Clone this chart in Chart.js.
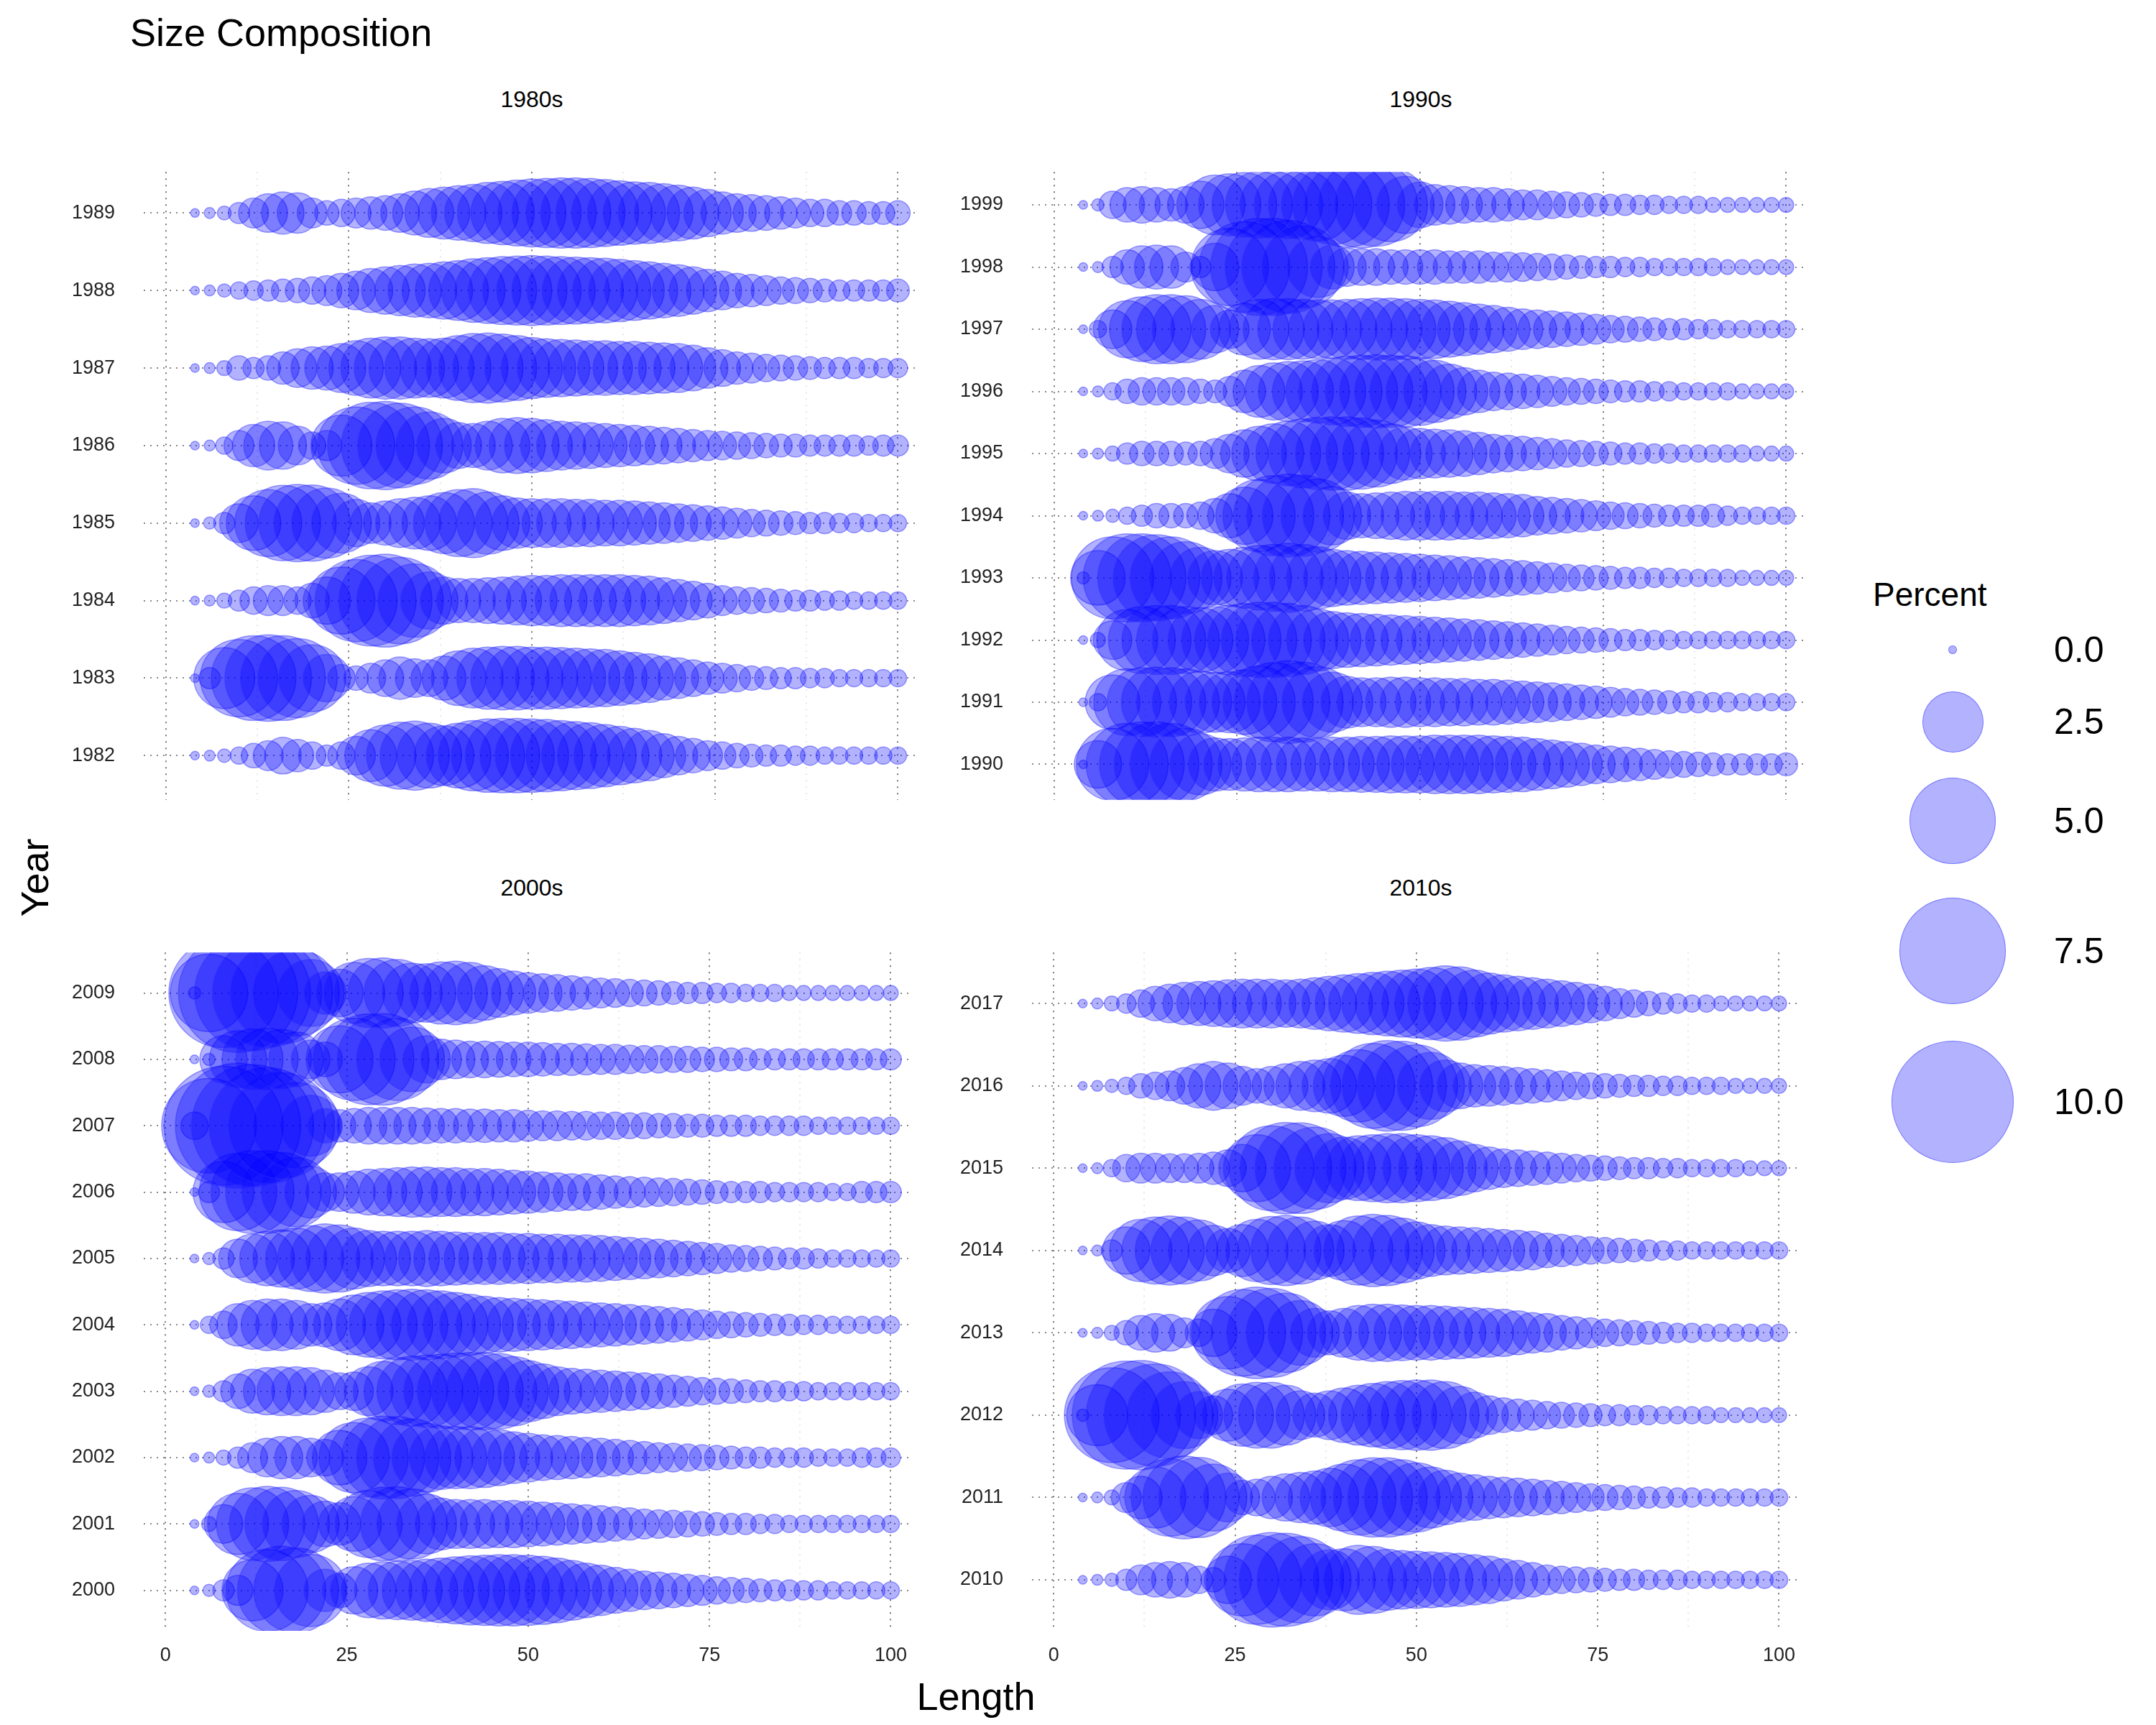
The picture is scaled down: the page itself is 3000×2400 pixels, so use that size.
<!DOCTYPE html>
<html><head><meta charset="utf-8">
<script src="https://cdn.jsdelivr.net/npm/chart.js@4.4.1/dist/chart.umd.min.js"></script>
<style>
body{margin:0;width:3000px;height:2400px;background:#fff;position:relative;font-family:Arial,"Liberation Sans",sans-serif;overflow:hidden}
canvas{position:absolute}
.t{position:absolute;white-space:nowrap;color:#000}
</style></head><body>
<div class="t" style="left:181px;top:14px;font-size:54px">Size Composition</div>
<div class="t" style="left:740px;top:138px;font-size:32px;transform:translate(-50%,-50%)">1980s</div>
<div class="t" style="left:1977px;top:138px;font-size:32px;transform:translate(-50%,-50%)">1990s</div>
<div class="t" style="left:740px;top:1235px;font-size:32px;transform:translate(-50%,-50%)">2000s</div>
<div class="t" style="left:1977px;top:1235px;font-size:32px;transform:translate(-50%,-50%)">2010s</div>
<div class="t" style="left:1358px;top:2360px;font-size:54px;transform:translate(-50%,-50%)">Length</div>
<div class="t" style="left:48px;top:1221px;font-size:54px;transform:translate(-50%,-50%) rotate(-90deg)">Year</div>
<div class="t" style="left:2606px;top:800px;font-size:46px">Percent</div>
<div id="legend"></div>
<canvas id="c0"></canvas><canvas id="c1"></canvas><canvas id="c2"></canvas><canvas id="c3"></canvas>
<script>
const lengths=[4,6,8,10,12,14,16,18,20,22,24,26,28,30,32,34,36,38,40,42,44,46,48,50,52,54,56,58,60,62,64,66,68,70,72,74,76,78,80,82,84,86,88,90,92,94,96,98,100];
const xTicks=[0,12.5,25,37.5,50,62.5,75,87.5,100];
const legendValues=[0,2.5,5,7.5,10];

const years1980s=[1982,1983,1984,1985,1986,1987,1988,1989];
const pct1980s=[
[.05,.08,.12,.2,.4,.6,.9,.7,.5,.3,.5,1.0,1.8,2.5,3.0,3.2,2.8,2.4,2.8,3.3,3.6,3.7,3.7,3.6,3.5,3.3,3.1,2.9,2.6,2.3,2.0,1.7,1.3,1.0,.8,.6,.5,.4,.35,.3,.3,.25,.25,.2,.2,.2,.2,.2,.2],
[.05,.3,2.5,4.0,4.8,5.0,4.8,4.2,3.0,1.5,.5,.4,.6,.9,1.2,1.0,.9,1.3,2.0,2.4,2.6,2.7,2.7,2.6,2.6,2.5,2.4,2.3,2.2,2.0,1.8,1.6,1.3,1.1,.9,.7,.6,.5,.4,.35,.3,.3,.25,.25,.2,.2,.2,.2,.2],
[.05,.08,.15,.3,.5,.6,.6,.5,.8,1.5,3.0,4.5,5.5,5.8,5.0,3.6,2.2,1.5,1.3,1.3,1.4,1.5,1.6,1.7,1.7,1.8,1.8,1.8,1.8,1.8,1.7,1.6,1.4,1.2,1.0,.8,.6,.5,.45,.4,.35,.3,.3,.25,.25,.2,.2,.2,.2],
[.05,.1,.3,1.0,2.0,3.0,3.8,4.0,3.9,3.3,2.4,1.5,1.1,1.3,1.6,1.8,2.0,2.5,3.0,3.2,2.6,2.0,1.7,1.6,1.6,1.6,1.5,1.5,1.4,1.4,1.3,1.2,1.1,1.0,.9,.8,.7,.6,.5,.45,.4,.35,.3,.3,.25,.25,.2,.2,.2],
[.05,.08,.2,.6,1.2,1.6,1.5,1.0,.5,.6,2.5,4.0,5.0,5.2,4.8,4.0,3.0,2.0,1.4,1.3,1.6,2.0,2.1,2.0,1.8,1.6,1.5,1.4,1.3,1.2,1.1,1.0,.9,.8,.7,.6,.55,.5,.45,.4,.35,.35,.3,.3,.3,.3,.25,.3,.3],
[.05,.08,.15,.4,.3,.4,.7,1.0,1.2,1.3,1.6,2.0,2.4,2.6,2.6,2.4,2.3,2.4,2.8,3.2,3.3,3.1,2.8,2.5,2.3,2.2,2.1,2.0,2.0,1.9,1.9,1.8,1.7,1.6,1.4,1.1,.9,.7,.6,.5,.45,.4,.35,.3,.3,.3,.25,.25,.25],
[.05,.08,.12,.2,.25,.3,.35,.4,.5,.6,.8,1.0,1.3,1.5,1.7,1.9,2.0,2.2,2.4,2.7,2.9,3.1,3.2,3.3,3.2,3.1,3.0,2.9,2.8,2.6,2.4,2.2,2.0,1.8,1.5,1.2,1.0,.8,.7,.6,.5,.45,.4,.35,.3,.3,.3,.3,.35],
[.05,.08,.13,.3,.6,1.0,1.2,1.1,.6,.4,.5,.6,.7,.8,1.0,1.3,1.6,1.8,2.0,2.2,2.5,2.7,2.9,3.1,3.2,3.3,3.3,3.2,3.0,2.8,2.6,2.5,2.3,2.1,1.8,1.5,1.2,1.0,.9,.8,.7,.6,.5,.5,.4,.4,.35,.35,.4]];

const years1990s=[1990,1991,1992,1993,1994,1995,1996,1997,1998,1999];
const pct1990s=[
[.05,1.5,3.5,4.5,4.8,4.8,4.5,3.5,2.5,1.9,1.8,1.9,2.0,2.0,2.0,1.9,1.9,2.0,2.0,2.1,2.1,2.2,2.2,2.2,2.3,2.3,2.3,2.3,2.2,2.1,2.0,1.8,1.6,1.4,1.2,1.0,.9,.8,.7,.6,.5,.45,.4,.35,.3,.3,.3,.3,.35],
[.05,.2,2.0,3.0,3.2,3.3,3.2,3.0,2.6,2.4,2.5,2.8,3.5,4.2,4.6,4.3,3.4,2.4,1.8,1.6,1.6,1.7,1.7,1.6,1.6,1.5,1.5,1.4,1.4,1.3,1.2,1.1,1.0,.9,.8,.7,.6,.5,.45,.4,.35,.3,.3,.25,.25,.2,.2,.2,.2],
[.05,.15,1.0,2.5,3.0,3.2,3.2,3.0,2.8,3.0,3.3,3.6,3.8,3.8,3.6,3.2,2.6,2.2,2.0,1.9,1.8,1.7,1.6,1.5,1.4,1.3,1.2,1.1,1.0,.9,.8,.7,.6,.5,.45,.4,.35,.3,.3,.25,.25,.2,.2,.2,.2,.2,.2,.2,.2],
[.1,2.0,4.5,5.2,5.2,5.0,4.5,3.5,2.5,2.0,2.2,2.5,2.8,3.0,3.2,3.0,2.6,2.2,2.0,1.9,1.8,1.7,1.6,1.5,1.4,1.3,1.2,1.1,1.0,.9,.8,.7,.6,.5,.45,.4,.35,.3,.3,.25,.25,.2,.2,.2,.2,.15,.15,.15,.15],
[.05,.08,.12,.2,.3,.4,.4,.4,.5,.8,1.3,2.2,3.5,4.3,4.6,4.4,3.6,2.3,1.5,1.3,1.4,1.5,1.6,1.6,1.6,1.6,1.5,1.5,1.4,1.3,1.2,1.0,.9,.8,.7,.6,.5,.45,.4,.35,.3,.3,.3,.35,.25,.2,.2,.2,.2],
[.05,.08,.15,.3,.4,.4,.4,.35,.4,.6,1.0,1.5,2.0,2.4,2.8,3.2,3.5,3.6,3.6,3.4,3.0,2.4,1.9,1.7,1.6,1.5,1.4,1.2,1.0,.9,.8,.7,.6,.5,.45,.4,.35,.3,.3,.25,.25,.2,.2,.2,.2,.2,.15,.15,.15],
[.05,.08,.2,.4,.5,.5,.5,.5,.4,.35,.6,1.2,1.8,2.2,2.4,2.5,2.7,3.0,3.3,3.5,3.6,3.5,3.4,3.1,2.6,2.0,1.5,1.2,1.0,.9,.8,.7,.6,.5,.45,.4,.35,.3,.3,.25,.25,.2,.2,.2,.2,.15,.15,.15,.15],
[.05,.2,1.0,2.2,2.8,3.2,3.2,3.0,2.4,1.5,1.0,1.8,2.4,2.5,2.5,2.4,2.3,2.3,2.4,2.5,2.6,2.6,2.5,2.4,2.3,2.1,1.9,1.7,1.5,1.3,1.1,1.0,.9,.8,.7,.6,.5,.45,.4,.35,.3,.3,.25,.25,.2,.2,.2,.2,.2],
[.05,.08,.3,.8,1.2,1.3,1.2,.6,.3,1.5,4.0,5.5,6.3,6.3,5.8,4.5,2.5,1.3,1.0,.9,.9,.8,.8,.8,.8,.7,.7,.7,.6,.6,.55,.5,.45,.4,.35,.3,.3,.25,.25,.2,.2,.2,.2,.2,.15,.15,.15,.15,.15],
[.05,.1,.5,.8,.9,.8,.7,.9,1.5,2.4,2.6,2.8,3.0,3.0,3.1,3.2,3.5,4.2,4.8,5.0,4.6,3.6,2.2,1.4,1.1,1.0,.9,.8,.8,.7,.6,.6,.5,.45,.4,.35,.3,.3,.25,.25,.2,.2,.2,.15,.15,.15,.15,.15,.15]];

const years2000s=[2000,2001,2002,2003,2004,2005,2006,2007,2008,2009];
const pct2000s=[
[.05,.1,.3,.6,2.5,4.5,5.2,4.8,3.5,1.2,.8,1.5,2.0,2.2,2.3,2.4,2.6,2.8,3.0,3.2,3.3,3.4,3.4,3.3,3.1,2.8,2.4,2.0,1.7,1.4,1.2,1.0,.9,.8,.7,.6,.5,.45,.4,.35,.3,.3,.25,.25,.2,.2,.2,.2,.2],
[.05,.15,1.0,2.5,3.5,3.8,3.6,3.0,2.2,1.4,1.2,2.0,3.0,3.6,3.7,3.3,2.4,1.8,1.6,1.6,1.6,1.5,1.5,1.4,1.3,1.2,1.1,1.0,.9,.8,.7,.6,.55,.5,.45,.4,.35,.3,.3,.25,.25,.2,.2,.2,.2,.2,.2,.2,.2],
[.05,.08,.15,.3,.6,1.0,1.2,1.2,1.0,.9,2.0,3.3,4.2,4.6,4.5,4.0,3.2,2.7,2.6,2.6,2.4,2.1,1.8,1.6,1.4,1.3,1.2,1.1,1.0,.9,.8,.7,.6,.55,.5,.45,.4,.35,.3,.3,.25,.25,.25,.2,.2,.2,.25,.25,.25],
[.05,.1,.3,.8,1.3,1.5,1.6,1.6,1.5,1.2,.9,1.0,1.6,2.4,3.0,3.3,3.5,3.7,3.9,4.0,4.0,3.8,3.2,2.5,2.0,1.6,1.4,1.3,1.2,1.1,1.0,.9,.8,.7,.6,.5,.45,.4,.35,.3,.3,.25,.25,.2,.2,.2,.2,.2,.2],
[.05,.2,.5,1.2,1.6,1.8,1.8,1.6,1.2,1.3,1.8,2.4,2.8,3.1,3.3,3.4,3.3,3.1,2.8,2.5,2.2,2.0,1.9,1.8,1.7,1.6,1.5,1.4,1.3,1.2,1.1,1.0,.9,.8,.7,.6,.5,.45,.4,.35,.3,.3,.25,.25,.2,.2,.2,.2,.2],
[.05,.1,.3,1.0,1.6,2.0,2.2,2.5,2.9,3.2,3.0,2.5,2.1,2.0,2.0,2.0,2.1,2.0,1.9,1.8,1.8,1.8,1.7,1.7,1.6,1.6,1.5,1.5,1.4,1.3,1.2,1.1,1.0,.9,.8,.7,.6,.5,.45,.4,.35,.3,.3,.25,.2,.2,.2,.2,.2],
[.05,.3,2.5,4.0,4.6,4.6,4.2,3.2,1.8,1.0,1.0,1.2,1.4,1.5,1.6,1.7,1.7,1.6,1.6,1.5,1.5,1.4,1.3,1.2,1.1,1.0,.9,.9,.8,.7,.65,.6,.55,.5,.45,.4,.35,.3,.3,.3,.25,.25,.25,.25,.2,.2,.3,.3,.3],
[.5,6.0,9.5,10.5,10.0,9.0,7.5,5.0,2.5,.8,.7,.8,.9,.9,.9,.9,.85,.8,.8,.75,.75,.7,.7,.65,.6,.6,.55,.55,.5,.5,.45,.45,.4,.4,.35,.35,.3,.3,.3,.25,.25,.25,.25,.2,.2,.2,.2,.2,.2],
[.05,.1,1.5,2.2,2.5,2.6,2.4,2.0,1.0,.8,3.0,4.5,5.5,5.6,4.5,2.8,1.5,1.1,1.0,.9,.9,.85,.8,.8,.75,.7,.7,.65,.6,.6,.55,.5,.5,.45,.45,.4,.4,.35,.35,.3,.3,.3,.3,.3,.3,.3,.3,.3,.3],
[.1,4.0,8.0,9.5,9.0,8.0,7.0,5.0,3.0,1.2,1.5,2.5,3.2,3.3,3.0,2.4,2.3,2.6,2.7,2.5,2.0,1.6,1.3,1.1,1.0,.9,.8,.7,.6,.55,.5,.45,.4,.35,.3,.3,.25,.25,.2,.2,.2,.15,.15,.15,.15,.15,.15,.15,.15]];

const years2010s=[2010,2011,2012,2013,2014,2015,2016,2017];
const pct2010s=[
[.05,.08,.12,.3,.6,.8,.9,.8,.5,.4,1.5,3.5,5.3,6.0,5.8,5.0,3.5,2.4,2.6,3.2,3.0,2.5,2.3,2.2,2.1,2.0,1.9,1.7,1.5,1.2,1.0,.8,.6,.5,.45,.4,.35,.3,.3,.25,.25,.25,.2,.2,.2,.2,.2,.2,.2],
[.05,.08,.15,.6,1.2,2.5,4.0,4.6,4.3,3.0,1.6,.8,.9,1.2,1.5,1.7,1.9,2.3,3.0,3.8,4.2,4.2,3.8,3.2,2.5,2.0,1.6,1.4,1.2,1.1,1.0,.9,.8,.7,.6,.5,.45,.4,.35,.3,.3,.25,.25,.2,.2,.2,.2,.2,.2],
[.1,2.5,6.0,7.8,8.0,7.0,5.0,3.0,1.5,1.0,1.8,2.6,2.9,2.9,2.4,1.6,1.3,1.6,2.0,2.4,2.7,3.0,3.2,3.3,3.3,3.0,2.2,1.4,1.0,.8,.7,.6,.5,.45,.4,.35,.3,.3,.25,.25,.2,.2,.2,.2,.15,.15,.15,.15,.15],
[.05,.08,.15,.4,.8,1.0,.9,.6,.5,1.5,3.5,5.0,5.6,5.3,4.2,2.8,1.6,1.3,1.6,2.0,2.2,2.2,2.1,2.0,2.0,1.9,1.8,1.7,1.6,1.5,1.3,1.1,1.0,.8,.7,.6,.5,.45,.4,.35,.3,.25,.25,.2,.2,.2,.2,.2,.2],
[.05,.08,.3,1.5,2.6,3.0,3.2,3.0,2.5,1.7,1.3,1.8,2.6,3.1,3.3,3.0,2.3,1.8,2.4,3.2,3.5,3.3,2.8,2.2,1.8,1.6,1.5,1.4,1.3,1.2,1.1,1.0,.8,.7,.6,.5,.45,.4,.35,.3,.25,.25,.2,.2,.2,.2,.2,.2,.2],
[.05,.08,.2,.5,.6,.6,.55,.55,.6,.7,.9,1.5,3.0,4.8,5.6,5.5,4.5,3.2,2.6,2.8,3.0,3.2,3.2,3.0,2.8,2.5,2.0,1.5,1.2,1.0,.9,.8,.7,.6,.5,.45,.4,.35,.3,.3,.25,.25,.2,.2,.2,.2,.15,.15,.15],
[.05,.08,.12,.2,.4,.5,.6,.9,1.3,1.6,1.4,1.0,.8,1.0,1.3,1.6,1.8,2.0,2.5,3.5,4.8,5.5,5.3,4.5,3.0,1.8,1.4,1.2,1.1,1.0,.9,.8,.7,.6,.5,.45,.4,.35,.3,.3,.25,.25,.2,.2,.2,.15,.15,.15,.15],
[.05,.08,.15,.25,.5,.8,1.0,1.2,1.3,1.4,1.5,1.6,1.6,1.6,1.5,1.6,1.8,2.0,2.2,2.4,2.6,2.8,3.0,3.2,3.5,3.8,3.6,3.0,2.5,2.2,2.0,1.8,1.6,1.4,1.2,1.0,.8,.6,.5,.4,.3,.25,.2,.2,.15,.15,.15,.15,.15]];

const R0=6,RMAX=85,PMAX=10;
function rad(p){return Math.max(R0,RMAX*Math.sqrt(Math.max(p,0)/PMAX));}

const panels=[
 {id:'c0',years:years1980s,pct:pct1980s,left:50,top:183,ax:150,aw:1080,ah:986,lo:0.57,hi:0.53,bottom:false},
 {id:'c1',years:years1990s,pct:pct1990s,left:1290,top:183,ax:146,aw:1080,ah:986,lo:0.57,hi:0.53,bottom:false},
 {id:'c2',years:years2000s,pct:pct2000s,left:50,top:1269,ax:150,aw:1080,ah:1000,lo:0.61,hi:0.61,bottom:true},
 {id:'c3',years:years2010s,pct:pct2010s,left:1290,top:1269,ax:146,aw:1080,ah:1000,lo:0.62,hi:0.62,bottom:true}];

Chart.defaults.font.family='Arial, "Liberation Sans", sans-serif';
panels.forEach(P=>{
 const xh=P.bottom?70:0;
 const cv=document.getElementById(P.id);
 const W=P.ax+P.aw, H=P.ah+xh;
 cv.style.left=P.left+'px';cv.style.top=P.top+'px';
 cv.style.width=W+'px';cv.style.height=H+'px';cv.width=W;cv.height=H;
 const data=[];
 P.years.forEach((y,i)=>{P.pct[i].forEach((p,j)=>{if(lengths[j]!==undefined)data.push({x:lengths[j],y:y,r:rad(p)});});});
 new Chart(cv,{type:'bubble',
  data:{datasets:[{data:data,backgroundColor:'rgba(0,0,255,0.3)',borderColor:'rgba(40,40,255,0.45)',borderWidth:1.5}]},
  options:{responsive:false,animation:false,devicePixelRatio:1,
   layout:{padding:0,autoPadding:false},
   plugins:{legend:{display:false},tooltip:{enabled:false}},
   scales:{
    x:{type:'linear',min:-3,max:103,
     afterBuildTicks:s=>{s.ticks=xTicks.map(v=>({value:v}));},
     afterFit:s=>{s.height=xh;},
     grid:{drawTicks:false,lineWidth:2,color:c=>(c.tick&&c.tick.value%25===0)?'#777':'#e6e6e6'},
     border:{display:false,dash:[2,7]},
     ticks:{display:P.bottom,padding:18,color:'#222',font:{size:27},maxRotation:0,callback:v=>v%25===0?String(v):''}},
    y:{type:'linear',min:P.years[0]-P.lo,max:P.years[P.years.length-1]+P.hi,
     afterBuildTicks:s=>{s.ticks=P.years.map(v=>({value:v}));},
     afterFit:s=>{s.width=P.ax;},
     grid:{drawTicks:false,lineWidth:2,color:'#888'},
     border:{display:false,dash:[2,7]},
     ticks:{padding:40,color:'#222',font:{size:27},callback:v=>String(v)}}}}});
});

const lg=document.getElementById('legend');
const ly=[904,1004,1142,1323,1533];
legendValues.forEach((v,i)=>{
 const r=rad(v);
 const d=document.createElement('div');
 d.style.cssText=`position:absolute;left:${2717-r}px;top:${ly[i]-r}px;width:${2*r}px;height:${2*r}px;border-radius:50%;background:rgba(0,0,255,0.3);border:1.5px solid rgba(40,40,255,0.45);box-sizing:border-box`;
 lg.appendChild(d);
 const t=document.createElement('div');t.className='t';
 t.style.cssText=`left:2858px;top:${ly[i]}px;font-size:50px;transform:translateY(-50%)`;
 t.textContent=v.toFixed(1);lg.appendChild(t);
});
</script></body></html>
